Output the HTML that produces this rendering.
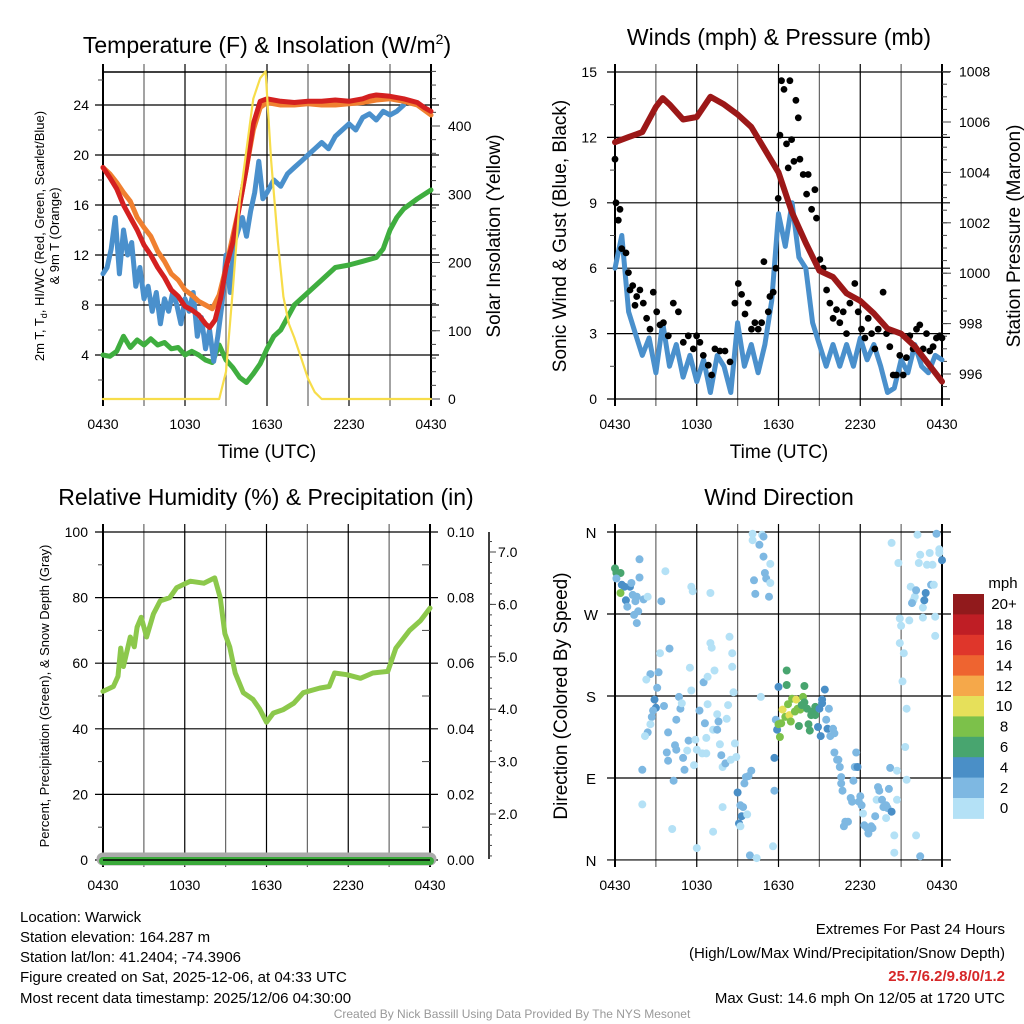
<!DOCTYPE html>
<html><head><meta charset="utf-8">
<style>
html,body{margin:0;padding:0;background:#fff;}
svg{display:block;font-family:"Liberation Sans",Arial,sans-serif;}
</style></head>
<body>
<svg id="chart" xmlns="http://www.w3.org/2000/svg" width="1024" height="1024" viewBox="0 0 1024 1024">
<rect x="0" y="0" width="1024" height="1024" fill="#fff"/>
<g id="layer"></g>
<text x="267" y="53" font-size="23" text-anchor="middle">Temperature (F) &amp; Insolation (W/m<tspan font-size="14" dy="-9">2</tspan><tspan dy="9">)</tspan></text>
<text x="779" y="45" font-size="23" text-anchor="middle">Winds (mph) &amp; Pressure (mb)</text>
<text x="266" y="505" font-size="23" text-anchor="middle">Relative Humidity (%) &amp; Precipitation (in)</text>
<text x="779" y="505" font-size="23" text-anchor="middle">Wind Direction</text>
<text x="267" y="458" font-size="19" text-anchor="middle">Time (UTC)</text>
<text x="779" y="458" font-size="19" text-anchor="middle">Time (UTC)</text>
<g transform="translate(44,236) rotate(-90)">
<text x="0" y="0" font-size="13" text-anchor="middle">2m T, T<tspan font-size="9" dy="3">d</tspan><tspan dy="-3">, HI/WC (Red, Green, Scarlet/Blue)</tspan></text>
<text x="0" y="15" font-size="13" text-anchor="middle">&amp; 9m T (Orange)</text>
</g>
<text transform="translate(500,236) rotate(-90)" font-size="19" text-anchor="middle">Solar Insolation (Yellow)</text>
<text transform="translate(566,236) rotate(-90)" font-size="19" text-anchor="middle">Sonic Wind &amp; Gust (Blue, Black)</text>
<text transform="translate(1020,236) rotate(-90)" font-size="19" text-anchor="middle">Station Pressure (Maroon)</text>
<text transform="translate(49,696) rotate(-90)" font-size="13" text-anchor="middle">Percent, Precipitation (Green), &amp; Snow Depth (Gray)</text>
<text transform="translate(567,696) rotate(-90)" font-size="19" text-anchor="middle">Direction (Colored By Speed)</text>
<text x="1003" y="588" font-size="15" text-anchor="middle">mph</text>
<g font-size="15">
<text x="20" y="922">Location: Warwick</text>
<text x="20" y="942">Station elevation: 164.287 m</text>
<text x="20" y="962">Station lat/lon: 41.2404; -74.3906</text>
<text x="20" y="982">Figure created on Sat, 2025-12-06, at 04:33 UTC</text>
<text x="20" y="1003">Most recent data timestamp: 2025/12/06 04:30:00</text>
</g>
<g font-size="15" text-anchor="end">
<text x="1005" y="934">Extremes For Past 24 Hours</text>
<text x="1005" y="958">(High/Low/Max Wind/Precipitation/Snow Depth)</text>
<text x="1005" y="981" fill="#d62728" font-weight="bold">25.7/6.2/9.8/0/1.2</text>
<text x="1005" y="1003">Max Gust: 14.6 mph On 12/05 at 1720 UTC</text>
</g>
<text x="512" y="1018" font-size="12" fill="#999" text-anchor="middle">Created By Nick Bassill Using Data Provided By The NYS Mesonet</text>
</svg>
<script>
// ---------- data ----------
const timeTickLabels = ['0430','1030','1630','2230','0430'];
const timeTickHours = [0,6,12,18,24];

const redHours = [0,0.5,1,1.5,2,2.5,3,3.5,4,4.5,5,5.5,6,6.5,7,7.5,7.8,8.2,8.6,9,9.5,10,10.5,11,11.5,12,13,14,15,16,17,18,19,19.5,20,21,22,23,23.5,24];
const redVals = [19,18.2,17.3,16,15,14,12.8,12,11,10.2,9.2,8.7,7.9,7.6,7.2,6.5,6.2,6.8,8.5,11,13,16,19,22.5,24.3,24.5,24.3,24.2,24.3,24.3,24.4,24.3,24.5,24.7,24.8,24.7,24.5,24.2,23.8,23.5];
const orangeHours = [0,0.5,1,1.5,2,2.5,3,3.5,4,4.5,5,5.5,6,6.5,7,7.5,8,8.5,9,9.5,10,10.5,11,11.5,12,13,14,15,16,17,18,19,20,21,22,23,24];
const orangeVals = [19,18.5,17.8,17,16.3,15,14.2,13.5,12.3,11.5,10.5,10,9.2,8.8,8.3,8,7.7,8.8,11,13.5,16,19,22,23.8,24.2,24,24,24.1,24,24,24.1,24.2,24.4,24.5,24.3,24,23.2];
const blueHours = [0,0.3,0.6,0.9,1.2,1.5,1.8,2.1,2.4,2.7,3,3.3,3.6,3.9,4.2,4.5,4.8,5.1,5.4,5.7,6,6.3,6.6,6.9,7.2,7.5,7.8,8.1,8.4,8.7,9,9.3,9.6,9.9,10.2,10.5,10.8,11.1,11.4,11.7,12,12.5,13,13.5,14,14.5,15,15.5,16,16.5,17,17.5,18,18.5,19,19.5,20,20.5,21,21.5,22];
const blueVals = [10.5,11,12.5,15,10.5,14,12,13,9.5,11,8.5,9.5,7.5,9,6.5,8.5,7.5,9,8,6.5,8.5,7.5,9,5.5,7,4.5,6,3.5,5.5,8,12,9,13,14,15,13.5,15.5,17,19.5,16.5,17,18,17.5,18.5,19,19.5,20,20.5,21,20.5,21.5,22,22.5,22,23,23.3,22.8,23.5,23.2,23.5,24];
const greenHours = [0,0.5,1,1.5,2,2.5,3,3.5,4,4.5,5,5.5,6,6.5,7,7.5,8,8.5,9,9.5,10,10.5,11,11.5,12,12.5,13,14,15,16,17,18,19,20,20.5,21,21.5,22,23,24];
const greenVals = [4,3.9,4.3,5.5,4.6,5.2,4.8,5.3,4.8,5,4.5,4.6,4,4.3,4,3.6,3.4,4.8,3.6,3,2.2,1.8,2.5,3.3,4.5,5.5,6,8,9,10,11,11.2,11.5,11.8,12.5,14,15,15.7,16.5,17.2];
const solarHours = [0,8.5,9,9.5,10,10.4,11,11.5,11.9,12.3,12.8,13.2,13.6,14,14.5,15,15.5,16,24];
const solarVals = [0,0,40,160,290,350,440,470,480,350,230,150,110,90,60,30,10,0,0];

const windHours = [0,0.5,1,1.5,2,2.5,3,3.5,4,4.5,5,5.5,6,6.5,7,7.5,8,8.5,9,9.5,10,10.5,11,11.5,12,12.5,13,13.5,14,14.5,15,15.5,16,16.5,17,17.5,18,18.5,19,19.5,20,20.5,21,21.5,22,22.5,23,23.5,24];
const windVals = [6,7.5,4,3,2,2.8,1.2,3.5,1.5,2.5,1,2,0.8,1.8,0.3,2,1.5,0.3,3.5,1.5,2.5,1.2,2.5,4.5,8.5,7,9,6.5,6,3.5,2.5,1.5,2.5,1.5,2.5,1.5,2.8,1.8,2.5,1.5,0.3,0.5,1.8,1.2,2.5,1.5,1.2,2,1.8];
const gustHours = [0,0.07,0.24,0.37,0.49,0.81,0.98,1.1,1.3,1.47,1.59,1.83,2.08,2.32,2.57,2.81,3.06,3.3,3.55,3.91,4.28,4.65,5.01,5.38,5.75,5.99,6.23,6.48,6.85,7.09,7.33,7.7,8.07,8.44,8.8,9.05,9.29,9.54,9.78,10.02,10.27,10.51,10.76,10.93,11.25,11.37,11.61,11.81,11.98,12.1,12.22,12.4,12.59,12.71,12.84,12.96,13.13,13.28,13.45,13.57,13.81,14.06,14.18,14.43,14.67,14.79,15.04,15.28,15.53,15.77,16.01,16.26,16.5,16.75,16.99,17.24,17.6,17.85,18.09,18.34,18.58,18.83,19.07,19.32,19.68,19.93,20.17,20.42,20.66,20.9,21.15,21.39,21.64,21.88,22.13,22.37,22.62,22.86,23.1,23.35,23.59,23.84,24];
const gustVals = [11,9,8.2,8.7,6.9,6.7,5.8,5,5.2,4.3,4.7,5,4.4,3.7,3.2,4.9,4,3.4,3.5,2.9,4.4,4,2.6,2.9,2.3,2.9,2.6,2,1.55,1.1,2.3,2.2,2.2,1.7,4.4,5.3,4.8,3.9,4.4,3.2,3.5,3.2,3.5,6.3,4,4.7,4.9,6,9.2,12.1,14.6,14.2,11.7,10.6,14.6,11.9,10.9,13.7,12.9,11,10.3,9.4,10.3,8.7,9.6,8.3,6.4,6,5,4.4,3.7,4.1,3.5,4,3,4.4,5.3,4,3.2,2.8,3.7,3,2.3,3.2,4.9,3,2.4,1.1,1.1,2,1.1,1.9,2.9,2.3,3.2,3.4,2.3,3,2.2,2.4,2.8,2.9,2.8];
const pressHours = [0,1,2,3,3.5,4,5,6,7,8,9,10,11,12,13,14,15,16,17,18,19,20,21,22,23,24];
const pressVals = [1005.2,1005.4,1005.6,1006.6,1006.95,1006.7,1006.1,1006.2,1007.0,1006.7,1006.3,1005.8,1004.9,1004.0,1002.4,1001.2,1000.1,999.85,999.2,998.9,998.4,997.8,997.6,997.1,996.4,995.7];

const rhHours = [0,0.76,1.1,1.3,1.5,2.0,2.3,2.5,2.8,3.2,3.7,4.2,4.9,5.4,6.4,7.4,8.2,8.6,8.95,9.3,9.7,10.3,11.0,11.5,12.0,12.5,13.2,14.0,14.7,15.9,16.6,17.0,17.9,18.9,19.8,20.9,21.5,22.5,23.3,24];
const rhVals = [51.4,52.9,56,64.6,59,68,65,71,74,68,75,79,80,83,85,84.4,86,80,69,65,57,51,49,46,42,44.8,45.8,47.8,51,52.4,52.9,57,56.5,55.4,57,57.5,64.6,70,73,76.8];
const precipHours = [0,24];
const precipVals = [0,0];
const snowHours = [0,24];
const snowVals = [0,0];

const dirHours = [0,0.1,0.4,0.1,0.5,0.7,1.1,0.4,1.2,0.8,0.9,1.3,1.5,1.6,1.7,1.4,1.6,1.8,1.8,2.1,2.4,3.4,3.7,5.6,5.7,7.0,4.0,3.3,2.6,2.3,3.2,3.1,2.9,3.0,2.8,2.7,2.6,2.4,2.2,2.0,2.0,3.6,3.9,3.8,3.9,4.3,4.2,4.5,4.8,4.7,4.9,4.4,4.5,5.0,5.1,5.4,5.5,5.6,5.3,5.9,6.0,5.8,6.0,6.2,6.5,6.6,6.8,6.4,6.7,6.7,6.8,7.0,7.1,7.3,7.2,7.5,7.6,7.5,7.7,7.8,7.9,8.1,7.9,7.2,8.2,8.3,8.4,8.6,8.6,8.7,8.8,8.9,8.5,9.0,9.2,9.3,9.1,9.2,9.4,9.6,9.8,9.5,10.0,9.7,9.9,10.4,10.1,10.1,10.8,10.9,10.6,10.9,11.4,11.0,11.1,11.4,10.2,10.3,11.3,10.7,11.6,11.7,11.7,11.8,11.9,12.0,12.0,12.2,12.1,12.3,12.5,12.6,12.6,12.7,12.8,12.9,13.0,13.2,13.3,13.4,13.5,13.6,13.7,13.8,13.9,13.9,14.1,14.2,14.3,14.4,14.5,14.7,14.7,14.9,15.0,15.1,15.2,15.2,15.4,15.5,15.6,15.7,15.8,16.0,16.1,16.1,16.3,16.4,16.5,16.6,16.6,16.7,16.8,16.9,17.1,17.3,17.4,17.5,17.6,17.8,17.7,17.9,18.0,18.1,18.2,18.3,18.5,18.6,18.8,18.9,19.1,19.2,19.3,19.4,19.6,19.7,19.9,19.9,20.0,20.1,20.2,20.3,20.5,20.5,20.7,20.7,20.3,20.8,20.9,21.0,20.9,21.2,21.1,21.4,21.3,21.4,21.6,21.7,21.9,22.0,22.1,21.8,22.2,22.3,22.4,22.6,22.6,22.7,22.8,22.9,23.1,23.2,23.3,23.4,23.5,23.5,23.6,23.8,23.8,24.0,22.1,22.4];
const dirDegrees = [320,315,315,309,302,300,300,293,304,285,278,291,284,289,273,269,260,330,310,286,289,284,317,300,295,293,232,227,204,198,206,189,176,167,164,157,149,140,136,99,61,169,140,118,109,87,34,154,166,179,172,126,121,112,99,131,211,186,120,132,121,104,13,164,195,150,171,117,117,134,201,238,233,208,143,160,152,143,127,115,102,106,58,31,155,170,245,212,227,184,128,113,110,74,60,48,40,37,58,91,92,84,98,50,5,2,358,351,357,355,346,333,325,315,309,304,307,292,289,179,15,76,112,154,143,190,149,150,135,165,157,208,192,171,159,152,177,163,176,166,147,165,170,179,191,173,166,149,142,159,163,168,159,146,166,136,176,172,187,154,144,166,136,144,139,118,110,110,102,91,84,76,37,42,42,68,64,87,102,102,118,64,70,60,51,38,35,29,37,35,48,66,80,76,66,58,60,46,57,78,101,53,27,8,98,66,348,326,265,257,238,227,196,166,124,88,263,300,285,289,296,282,357,326,335,277,266,285,293,324,337,302,324,302,267,246,358,341,337,329,27,4];
const dirSpeeds = [7,7,7,3,5,5,5,9,3,5,3,3,3,3,3,3,3,3,3,3,1,3,1,1,1,1,3,1,3,1,3,3,5,5,3,3,1,3,1,3,1,3,3,3,3,3,1,3,3,3,1,3,3,3,3,3,1,1,1,1,1,1,1,3,3,3,1,1,1,1,1,1,1,1,1,1,3,3,1,3,1,3,1,1,1,1,1,1,1,1,1,1,1,5,3,5,5,1,3,3,3,3,3,1,3,1,1,1,1,3,3,3,1,3,3,1,3,3,3,1,1,3,5,3,5,5,9,9,9,11,9,7,7,9,11,9,9,9,11,9,7,9,7,9,7,7,7,7,7,7,7,7,7,5,5,5,5,5,5,3,5,3,3,3,3,3,3,3,3,3,3,3,3,3,3,3,3,3,3,5,3,3,3,3,1,3,3,3,3,3,3,1,3,3,3,3,3,1,3,3,3,5,1,1,1,1,1,1,1,1,1,1,1,1,1,1,1,1,1,1,3,3,1,1,1,1,1,5,5,1,1,3,1,1,1,1,3,1,1,5,1,3,1,5];

const speedBins = [0,2,4,6,8,10,12,14,16,18,20];
const speedLabels = ['0','2','4','6','8','10','12','14','16','18','20+'];
const speedColors = ['#b4e1f6','#7eb8e2','#4a8fc7','#48a56f','#7cc14a','#e6e05a','#f5a84a','#ee6430','#df362b','#bf1e25','#911a1c'];

// ---------- helpers ----------
const NS = 'http://www.w3.org/2000/svg';
const layer = document.getElementById('layer');
function mk(tag, attrs, name, parent) {
  const el = document.createElementNS(NS, tag);
  for (const k in attrs) el.setAttribute(k, attrs[k]);
  
  
  (parent || layer).appendChild(el);
  return el;
}
function txt(x, y, s, size, anchor, name) {
  const t = mk('text', {x: x, y: y, 'font-size': size, 'text-anchor': anchor || 'middle'}, name);
  t.textContent = s;
  return t;
}
function polyline(hours, vals, xf, yf, color, w, name) {
  const pts = hours.map((h, i) => xf(h).toFixed(1) + ',' + yf(vals[i]).toFixed(1)).join(' ');
  mk('polyline', {points: pts, fill: 'none', stroke: color, 'stroke-width': w, 'stroke-linejoin': 'round', 'stroke-linecap': 'round'}, name);
}
function frame(x0, x1, y0, y1, prefix, yGrid, yfn, extL, extR) {
  for (let h = 0; h <= 24; h += 3) {
    const x = x0 + h * (x1 - x0) / 24;
    const major = (h % 6 === 0);
    mk('line', {x1: x, y1: y0 - 8, x2: x, y2: y1 + 7, stroke: major ? '#000' : '#666', 'stroke-width': (h === 0 || h === 24) ? 2 : 1.2}, prefix + '-vgrid');
  }
  yGrid.forEach(v => {
    const y = yfn(v);
    mk('line', {x1: x0 - extL, y1: y, x2: x1 + extR, y2: y, stroke: '#000', 'stroke-width': 1.2}, prefix + '-hgrid');
  });
  timeTickHours.forEach((h, i) => {
    txt(x0 + h * (x1 - x0) / 24, y1 + 30, timeTickLabels[i], 14, 'middle', prefix + '-x-tick-label');
  });
}
function ticks(x, vals, yf, dir, len, name) {
  vals.forEach(v => {
    const y = yf(v);
    mk('line', {x1: x, y1: y, x2: x + dir * len, y2: y, stroke: '#444', 'stroke-width': 1}, name);
  });
}

// ---------- panel 1: temperature ----------
{
  const x0 = 103, x1 = 431;
  const xf = h => x0 + h * (x1 - x0) / 24;
  const yL = v => 355 - (v - 4) * 12.5;
  const yR = w => 399 - w * 0.6825;
  const leftTicks = [4,8,12,16,20,24];
  const rightTicks = [0,100,200,300,400];
  frame(x0, x1, 72, 399, 'temp', leftTicks, yL, 8, 8);
  mk('line', {x1: x0, y1: 72, x2: x1, y2: 72, stroke: '#000', 'stroke-width': 1.5}, 'temp-top-border');
  ticks(x0, [2,6,10,14,18,22,26], yL, -1, 5, 'temp-minor-tick');
  const rMinor = []; for (let w = 20; w <= 480; w += 20) rMinor.push(w);
  ticks(x1, rMinor, yR, 1, 5, 'insolation-minor-tick');
  ticks(x1, rightTicks, yR, 1, 9, 'insolation-major-tick');
  leftTicks.forEach(v => txt(x0 - 14, yL(v) + 5, String(v), 14, 'end', 'temp-y-tick-label'));
  rightTicks.forEach(v => txt(x1 + 17, yR(v) + 5, String(v), 14, 'start', 'insolation-y-tick-label'));
  polyline(greenHours, greenVals, xf, yL, '#3fae3f', 5, 'dewpoint-line');
  polyline(blueHours, blueVals, xf, yL, '#4a90cc', 5, 'windchill-line');
  polyline(orangeHours, orangeVals, xf, yL, '#f08030', 5, 'temp-9m-line');
  polyline(redHours, redVals, xf, yL, '#d42020', 5, 'temp-2m-line');
  polyline(solarHours, solarVals, xf, yR, '#f7dd4a', 2.2, 'solar-insolation-line');
}

// ---------- panel 2: wind ----------
{
  const x0 = 615, x1 = 942;
  const xf = h => x0 + h * (x1 - x0) / 24;
  const yL = v => 399 - v * 21.8;
  const yR = p => 374 - (p - 996) * 25.2;
  const leftTicks = [0,3,6,9,12,15];
  const rightTicks = [996,998,1000,1002,1004,1006,1008];
  frame(x0, x1, 72, 399, 'wind', leftTicks, yL, 8, 8);
  ticks(x0, [1.5,4.5,7.5,10.5,13.5], yL, -1, 5, 'wind-minor-tick');
  const rMinor = []; for (let p = 995.5; p <= 1008; p += 0.5) rMinor.push(p);
  ticks(x1, rMinor, yR, 1, 5, 'pressure-minor-tick');
  ticks(x1, rightTicks, yR, 1, 9, 'pressure-major-tick');
  leftTicks.forEach(v => txt(x0 - 18, yL(v) + 5, String(v), 14, 'end', 'wind-y-tick-label'));
  rightTicks.forEach(v => txt(x1 + 17, yR(v) + 5, String(v), 14, 'start', 'pressure-y-tick-label'));
  polyline(windHours, windVals, xf, yL, '#4a90cc', 5, 'sonic-wind-line');
  gustHours.forEach((h, i) => {
    const c = mk('circle', {cx: xf(h).toFixed(1), cy: yL(gustVals[i]).toFixed(1), r: 3.4, fill: '#000'}, 'gust-point');
    
  });
  polyline(pressHours, pressVals, xf, yR, '#9c1818', 6, 'pressure-line');
}

// ---------- panel 3: humidity ----------
{
  const x0 = 103, x1 = 430;
  const xf = h => x0 + h * (x1 - x0) / 24;
  const yL = v => 860 - v * 3.28;
  const yP = p => 860 - p * 3280;
  const yS = s => 814 - (s - 2) * 52.4;
  const leftTicks = [0,20,40,60,80,100];
  const rightTicks = [0,0.02,0.04,0.06,0.08,0.10];
  frame(x0, x1, 532, 860, 'rh', leftTicks, yL, 8, 8);
  ticks(x0, [10,30,50,70,90], yL, -1, 5, 'rh-minor-tick');
  ticks(x1, [0.01,0.03,0.05,0.07,0.09], yP, -1, 8, 'precip-minor-tick');
  leftTicks.forEach(v => txt(x0 - 15, yL(v) + 5, String(v), 14, 'end', 'rh-y-tick-label'));
  rightTicks.forEach(v => txt(x1 + 17, yP(v) + 5, v.toFixed(2), 14, 'start', 'precip-y-tick-label'));
  mk('line', {x1: 489, y1: 532, x2: 489, y2: 859, stroke: '#000', 'stroke-width': 1.5}, 'snow-depth-axis');
  const sMinor = []; for (let s = 1.2; s <= 7.4; s += 0.2) sMinor.push(s);
  ticks(489, sMinor, yS, 1, 3, 'snow-minor-tick');
  const snowTicks = [2,3,4,5,6,7];
  ticks(489, snowTicks, yS, 1, 7, 'snow-major-tick');
  snowTicks.forEach(v => txt(498, yS(v) + 5, v.toFixed(1), 14, 'start', 'snow-y-tick-label'));
  polyline(snowHours, snowVals, xf, v => yL(v) - 1, '#aaaaaa', 13, 'snow-depth-line');
  polyline(precipHours, precipVals, xf, v => yP(v) + 1, '#3aaa3a', 8, 'precipitation-line');
  mk('line', {x1: x0, y1: 860, x2: x1, y2: 860, stroke: '#000', 'stroke-width': 1.5}, 'rh-bottom-border');
  polyline(rhHours, rhVals, xf, yL, '#8cc84b', 5, 'relative-humidity-line');
}

// ---------- panel 4: wind direction ----------
{
  const x0 = 615, x1 = 942;
  const xf = h => x0 + h * (x1 - x0) / 24;
  const yD = d => 532 + (360 - d) * 0.911;
  const dirTicks = [360,270,180,90,0];
  const dirLabels = ['N','W','S','E','N'];
  frame(x0, x1, 532, 860, 'direction', dirTicks, yD, 8, 9);
  dirTicks.forEach((d, i) => txt(591, yD(d) + 6, dirLabels[i], 15, 'middle', 'direction-y-tick-label'));
  function colorFor(s) {
    let idx = 0;
    for (let i = 0; i < speedBins.length; i++) if (s >= speedBins[i]) idx = i;
    return speedColors[idx];
  }
  dirHours.forEach((h, i) => {
    const c = mk('circle', {cx: xf(h).toFixed(1), cy: yD(dirDegrees[i]).toFixed(1), r: 4, fill: colorFor(dirSpeeds[i])}, 'direction-point');
    
  });
  // colorbar: 11 boxes, top = 20+, bottom = 0
  const cbTop = 594, cbH = 20.4;
  const n = speedColors.length;
  for (let i = 0; i < n; i++) {
    const idx = n - 1 - i;
    const r = mk('rect', {x: 953, y: (cbTop + i * cbH).toFixed(1), width: 31, height: cbH + 0.5, fill: speedColors[idx]}, 'colorbar-box');
    
    txt(1004, cbTop + i * cbH + cbH / 2 + 5, speedLabels[idx], 15, 'middle', 'colorbar-label');
  }
}
</script>
</body></html>
